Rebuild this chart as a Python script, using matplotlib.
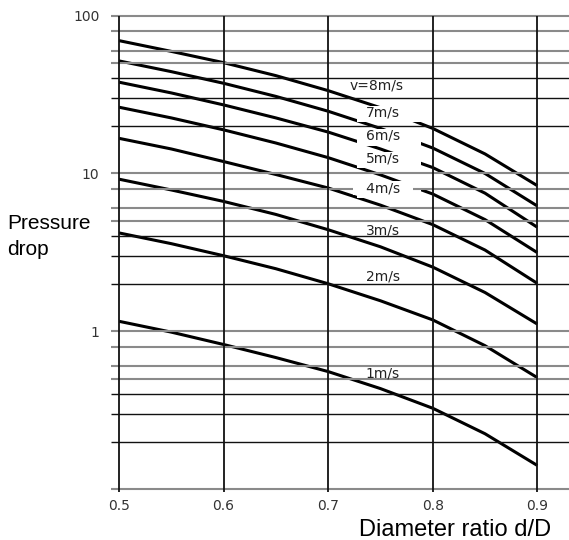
import matplotlib
matplotlib.use("Agg")
import matplotlib.pyplot as plt
from matplotlib.patches import Rectangle
from matplotlib.ticker import NullLocator

# Data: pressure drop vs diameter ratio for several velocities
diameter_ratio = [0.5, 0.55, 0.6, 0.65, 0.7, 0.75, 0.8, 0.85, 0.9]
velocities = ['v=8m/s', '7m/s', '6m/s', '5m/s', '4m/s', '3m/s', '2m/s', '1m/s']
drop_8 = [69.5, 59.4, 50.4, 41.7, 33.5, 26.1, 19.3, 13.3, 8.37]
drop_7 = [51.7, 44.2, 37.3, 30.8, 24.8, 19.3, 14.5, 10.0, 6.22]
drop_6 = [37.9, 32.4, 27.2, 22.5, 18.3, 14.3, 10.9, 7.5, 4.56]
drop_5 = [26.3, 22.5, 18.9, 15.6, 12.6, 9.8, 7.41, 5.1, 3.15]
drop_4 = [16.7, 14.3, 11.9, 9.85, 8.09, 6.3, 4.74, 3.27, 2.01]
drop_3 = [9.2, 7.86, 6.65, 5.5, 4.40, 3.43, 2.55, 1.76, 1.11]
drop_2 = [4.2, 3.59, 3.01, 2.49, 2.0, 1.56, 1.18, 0.81, 0.508]
drop_1 = [1.156, 0.987, 0.824, 0.681, 0.555, 0.433, 0.325, 0.224, 0.141]
drops = [drop_8, drop_7, drop_6, drop_5, drop_4, drop_3, drop_2, drop_1]

# where each curve label sits (x, y in data units)
label_x = [0.746, 0.7524, 0.7524, 0.7524, 0.7524, 0.7524, 0.7524, 0.7524]
label_y = [36.0, 24.4, 17.4, 12.5, 8.06, 4.38, 2.22, 0.536]
# labels that sit on a gap cut into the curve above them
label_gap = [False, True, True, True, True, False, False, False]
# labels that also blank out the grid line behind them
label_boxed = [False, False, False, False, True, False, False, False]

x_ticks = [0.5, 0.6, 0.7, 0.8, 0.9]
y_grid = [0.1, 0.2, 0.3, 0.4, 0.5, 0.6, 0.8, 1, 2, 3, 4, 5, 6, 8,
          10, 20, 30, 40, 50, 60, 80, 100]
y_labels = [1, 10, 100]

BLACK = '#111111'
GREY = '#8a8a8a'

fig = plt.figure(figsize=(5.69, 5.40), dpi=100)
ax = fig.add_axes([119 / 569, 1 - 489 / 540, 450 / 569, 473.3 / 540])
ax.set_yscale('log')
ax.set_xlim(0.5, 0.9303)
ax.set_ylim(0.1, 100)
for s in ax.spines.values():
    s.set_visible(False)

# horizontal grid, with a short stub left of the frame
for val in y_grid:
    lead = int(f'{val:e}'[0])
    dark = lead in (2, 3, 4)
    ax.hlines(val, -8 / 450, 1, transform=ax.get_yaxis_transform(),
              colors=BLACK if dark else GREY, lw=1.0 if dark else 1.5,
              clip_on=False, zorder=3)

# vertical grid
ax.vlines(x_ticks, -3 / 473, 1, transform=ax.get_xaxis_transform(),
          colors=BLACK, lw=1.3, clip_on=False, zorder=3)

for d in drops:
    ax.plot(diameter_ratio, d, color='black', lw=2.2, zorder=2,
            solid_capstyle='butt')

up, down = 1.157, 1.092   # ~10 px above, ~6 px below the label centre
for name, lx, ly, gap, boxed in zip(velocities, label_x, label_y,
                                    label_gap, label_boxed):
    if gap:
        # white mask that breaks the curve around the label (grid stays on top)
        ax.add_patch(Rectangle((0.7276, ly / up), 0.0612, ly * down - ly / up,
                               fc='white', ec='none', zorder=2.5))
    bbox = None
    if boxed:
        bbox = dict(fc='white', ec='none', pad=0)
        name = '   ' + name + '   '
    ax.text(lx, ly, name, ha='center', va='center', fontsize=10,
            family='DejaVu Sans', color='#222222', bbox=bbox, zorder=5)

ax.set_xticks(x_ticks)
ax.set_xticklabels([f'{t:.1f}' for t in x_ticks])
ax.set_yticks(y_labels)
ax.set_yticklabels([str(v) for v in y_labels])
ax.yaxis.set_minor_locator(NullLocator())
ax.tick_params(axis='x', length=0, pad=7, labelsize=10, labelcolor='#333333')
ax.tick_params(axis='y', length=0, pad=14, labelsize=10, labelcolor='#333333')

fig.text(7 / 569, 1 - 229 / 540, 'Pressure', fontsize=15,
         family='Liberation Sans', va='baseline')
fig.text(7 / 569, 1 - 255 / 540, 'drop', fontsize=15,
         family='Liberation Sans', va='baseline')
fig.text(455 / 569, 1 - 536 / 540, 'Diameter ratio d/D', fontsize=17,
         family='Liberation Sans', ha='center', va='baseline')

fig.savefig('out.png', dpi=100)
